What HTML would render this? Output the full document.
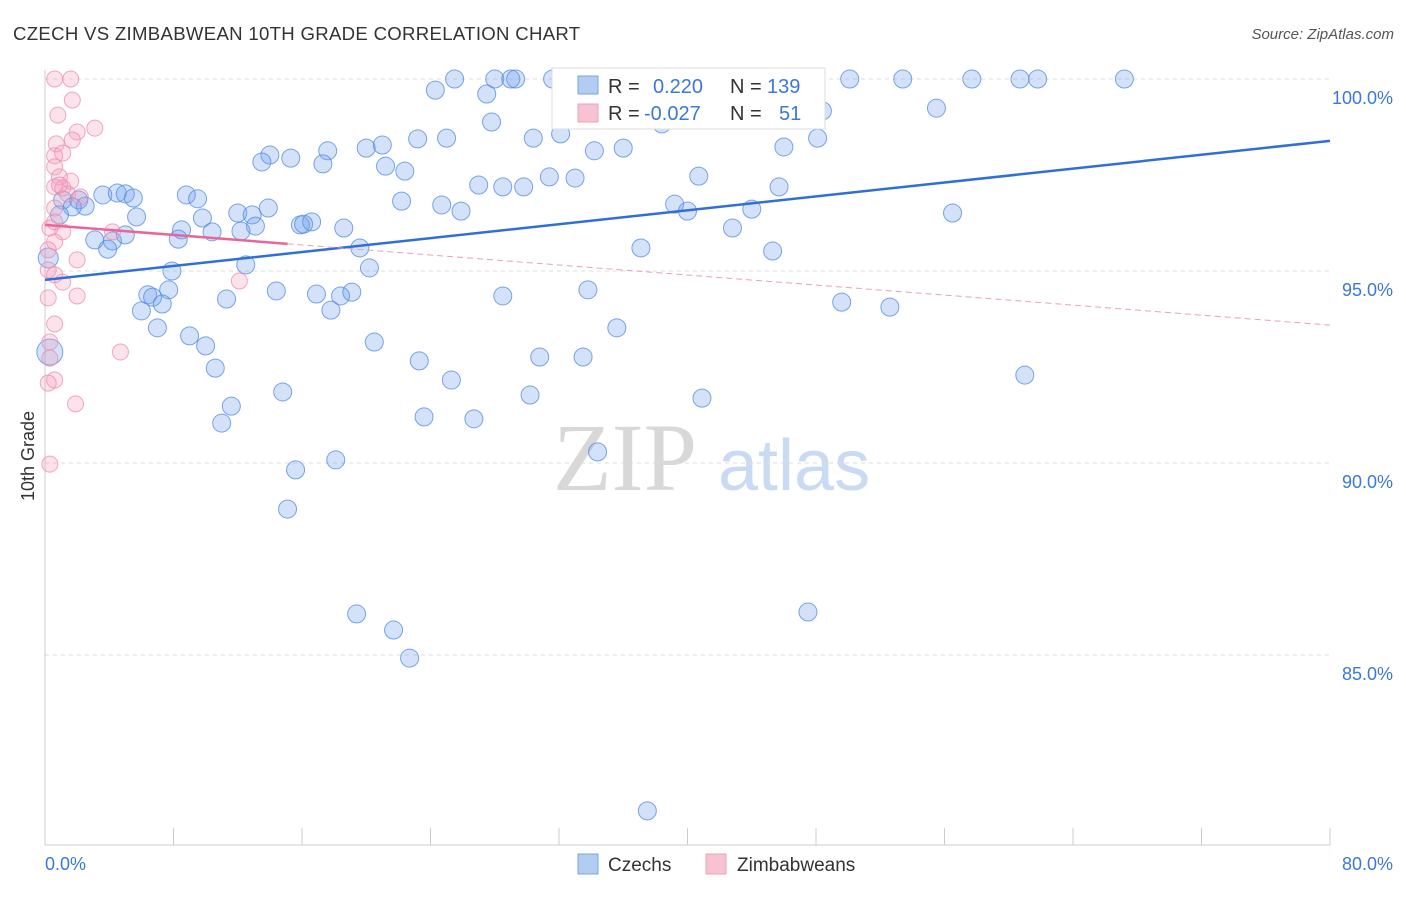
<!DOCTYPE html>
<html><head><meta charset="utf-8"><style>
body{margin:0;background:#fff;font-family:"Liberation Sans",sans-serif;}
svg text{font-family:"Liberation Sans",sans-serif;}
</style></head><body>
<svg id="chart" width="1406" height="892" xmlns="http://www.w3.org/2000/svg">
<text x="13" y="40" font-size="18.6" letter-spacing="0.3" fill="#333">CZECH VS ZIMBABWEAN 10TH GRADE CORRELATION CHART</text>
<text x="1394" y="39" font-size="15" fill="#555" font-style="italic" text-anchor="end">Source: ZipAtlas.com</text>
<g>
<text x="553" y="490" font-size="96" fill="#d8d8d8" font-family="Liberation Serif" style="font-family:'Liberation Serif',serif">ZIP</text>
<text x="718" y="490" font-size="72" fill="#c9dbf2">atlas</text>
</g>
<g id="grid"></g>
<g id="axes"></g>
<g id="pts"></g>
<g id="trends"></g>
<text transform="translate(34,456) rotate(-90)" font-size="18" fill="#333" text-anchor="middle">10th Grade</text>
<g>
<rect x="552" y="68" width="273" height="61" fill="#fff" stroke="#ddd"/>
<rect x="578" y="76" width="20" height="18" fill="#b3cdf2" stroke="#7aa5e6"/>
<rect x="578" y="104" width="20" height="18" fill="#f7c3d3" stroke="#eea0ba"/>
<text x="608" y="93" font-size="20" fill="#333">R =</text>
<text x="653" y="93" font-size="20" fill="#3b78d8">0.220</text>
<text x="730" y="93" font-size="20" fill="#333">N =</text>
<text x="767" y="93" font-size="20" fill="#3b78d8">139</text>
<text x="608" y="120" font-size="20" fill="#333">R =</text>
<text x="644" y="120" font-size="20" fill="#3b78d8">-0.027</text>
<text x="730" y="120" font-size="20" fill="#333">N =</text>
<text x="779" y="120" font-size="20" fill="#3b78d8">51</text>
</g>
<g>
<rect x="578" y="854" width="20" height="20" fill="#b3cdf2" stroke="#7aa5e6"/>
<text x="608" y="871" font-size="19" fill="#333">Czechs</text>
<rect x="706" y="854" width="20" height="20" fill="#f7c3d3" stroke="#eea0ba"/>
<text x="737" y="871" font-size="19" fill="#333">Zimbabweans</text>
</g>
</svg>
<script>
const yTicks=[100,95,90,85];
const xTickLabels=["0.0%","80.0%"];
const czechX=[25.5,28.0,29.0,29.3,31.6,36.2,42.0,46.5,46.8,50.1,53.4,57.7,60.7,61.8,67.2,24.3,27.5,55.5,48.4,27.8,32.1,38.4,23.2,25.0,30.4,48.1,20.0,21.0,46.0,34.2,36.0,17.6,14.0,13.5,15.3,17.3,21.2,22.4,31.4,33.0,40.7,27.0,28.5,29.8,45.7,22.2,24.7,25.9,39.2,40.0,44.0,56.5,3.6,4.5,5.0,5.5,8.8,9.5,1.1,2.1,2.5,1.7,0.9,5.7,9.8,12.0,12.9,13.9,13.1,12.2,10.4,8.5,15.9,16.6,16.1,18.6,42.8,3.1,4.2,3.9,5.0,8.3,37.1,45.3,19.6,12.5,20.2,7.9,6.4,6.7,7.7,6.0,7.3,11.3,14.4,16.9,18.4,19.1,17.8,28.5,33.8,49.6,52.6,7.0,9.0,10.0,20.5,35.6,10.6,23.3,30.8,33.5,25.3,61.0,14.8,11.6,30.2,40.9,11.0,23.6,26.7,15.6,18.1,34.4,15.1,19.4,21.7,22.7,47.5,37.5,0.3,0.2];
const czechY=[100,100,100,100,100,100,100,100,100,100,100,100,100,100,100,99.71,99.61,99.24,99.17,98.88,98.57,98.83,98.44,98.46,98.46,98.46,98.20,98.28,98.23,98.13,98.20,98.13,98.02,97.84,97.94,97.79,97.73,97.60,97.45,97.42,97.47,97.24,97.19,97.19,97.19,96.82,96.72,96.56,96.74,96.56,96.61,96.51,96.98,97.03,97.01,96.90,96.98,96.88,96.85,96.85,96.69,96.67,96.46,96.41,96.38,96.51,96.46,96.64,96.17,96.04,96.02,96.07,96.20,96.28,96.22,96.12,96.12,95.81,95.78,95.57,95.94,95.83,95.60,95.52,95.60,95.16,95.08,95.00,94.38,94.32,94.51,93.96,94.14,94.27,94.48,94.40,94.35,94.45,93.98,94.35,94.51,94.19,94.06,93.52,93.31,93.05,93.15,93.52,92.47,92.66,92.76,92.76,92.16,92.29,91.85,91.48,91.77,91.69,91.04,91.20,91.15,89.82,90.08,90.29,88.80,86.07,85.65,84.92,86.12,80.94,92.89,95.34];
const zimX=[0.6,1.6,1.7,0.8,3.1,2.0,1.7,0.7,0.6,1.1,0.6,1.6,0.9,1.1,0.6,1.4,2.2,0.6,0.6,0.3,1.1,0.6,0.2,2.0,0.2,0.6,1.1,12.1,0.2,2.0,0.6,0.3,0.3,0.6,0.2,1.9,4.7,0.3,4.2,0.9];
const zimY=[100,100,99.45,99.06,98.72,98.62,98.41,98.31,98.0,98.07,97.71,97.34,97.45,97.16,97.19,97.01,96.93,96.64,96.28,96.12,96.02,95.76,95.55,95.29,95.03,94.90,94.71,94.74,94.30,94.35,93.62,93.15,92.73,92.16,92.08,91.54,92.89,89.97,96.02,97.24];
const czechTrend=[94.77,98.39];
const zimTrend=[96.20,93.59];
const zimSolidEnd=15.1;

const NS="http://www.w3.org/2000/svg";
const X=v=>45+v*(1285/80);
const Y=v=>79+(100-v)*38.4;
function mk(tag,attrs,parent){const e=document.createElementNS(NS,tag);for(const k in attrs)e.setAttribute(k,attrs[k]);parent.appendChild(e);return e;}
const grid=document.getElementById('grid'),axes=document.getElementById('axes'),pts=document.getElementById('pts'),tr=document.getElementById('trends');
yTicks.forEach(t=>{
 const l=mk('line',{x1:45,x2:1330,y1:Y(t),y2:Y(t),stroke:'#ddd','stroke-dasharray':'4,4'},grid);
 
 
 const tx=mk('text',{x:1393,y:Y(t)+25,'font-size':18,fill:'#3b78d8','text-anchor':'end'},grid);
 tx.textContent=t.toFixed(1)+'%';
 
 
});
const ax=mk('line',{x1:45,x2:1330,y1:845,y2:845,stroke:'#ccc'},axes);


const ay=mk('line',{x1:45,x2:45,y1:70,y2:845,stroke:'#ccc'},axes);


for(let i=0;i<=10;i++){
 const t=mk('line',{x1:X(i*8),x2:X(i*8),y1:828,y2:845,stroke:'#ccc'},axes);
 
 
}
const xl0=mk('text',{x:45,y:870,'font-size':18,fill:'#3b78d8'},axes);xl0.textContent=xTickLabels[0];


const xl1=mk('text',{x:1393,y:870,'font-size':18,fill:'#3b78d8','text-anchor':'end'},axes);xl1.textContent=xTickLabels[1];


czechX.forEach((v,i)=>{
 const c=mk('circle',{cx:X(v),cy:Y(czechY[i]),r:i>=czechX.length-2?(i==czechX.length-2?13:10):9,fill:'rgba(110,160,235,0.3)',stroke:'rgba(80,135,225,0.75)','stroke-width':1},pts);
 
 
});
zimX.forEach((v,i)=>{
 const c=mk('circle',{cx:X(v),cy:Y(zimY[i]),r:8,fill:'rgba(245,160,190,0.3)',stroke:'rgba(235,140,175,0.75)','stroke-width':1},pts);
 
 
});
const bt=mk('line',{x1:X(0),y1:Y(czechTrend[0]),x2:X(80),y2:Y(czechTrend[1]),stroke:'#2f6fd6','stroke-width':2.5},tr);


const zAt=x=>zimTrend[0]+(zimTrend[1]-zimTrend[0])*x/80;
const pt=mk('line',{x1:X(0),y1:Y(zimTrend[0]),x2:X(zimSolidEnd),y2:Y(zAt(zimSolidEnd)),stroke:'#e8679a','stroke-width':2.5},tr);


const pd=mk('line',{x1:X(zimSolidEnd),y1:Y(zAt(zimSolidEnd)),x2:X(80),y2:Y(zimTrend[1]),stroke:'#e8a0b8','stroke-width':1,'stroke-dasharray':'6,4'},tr);


</script>
</body></html>
